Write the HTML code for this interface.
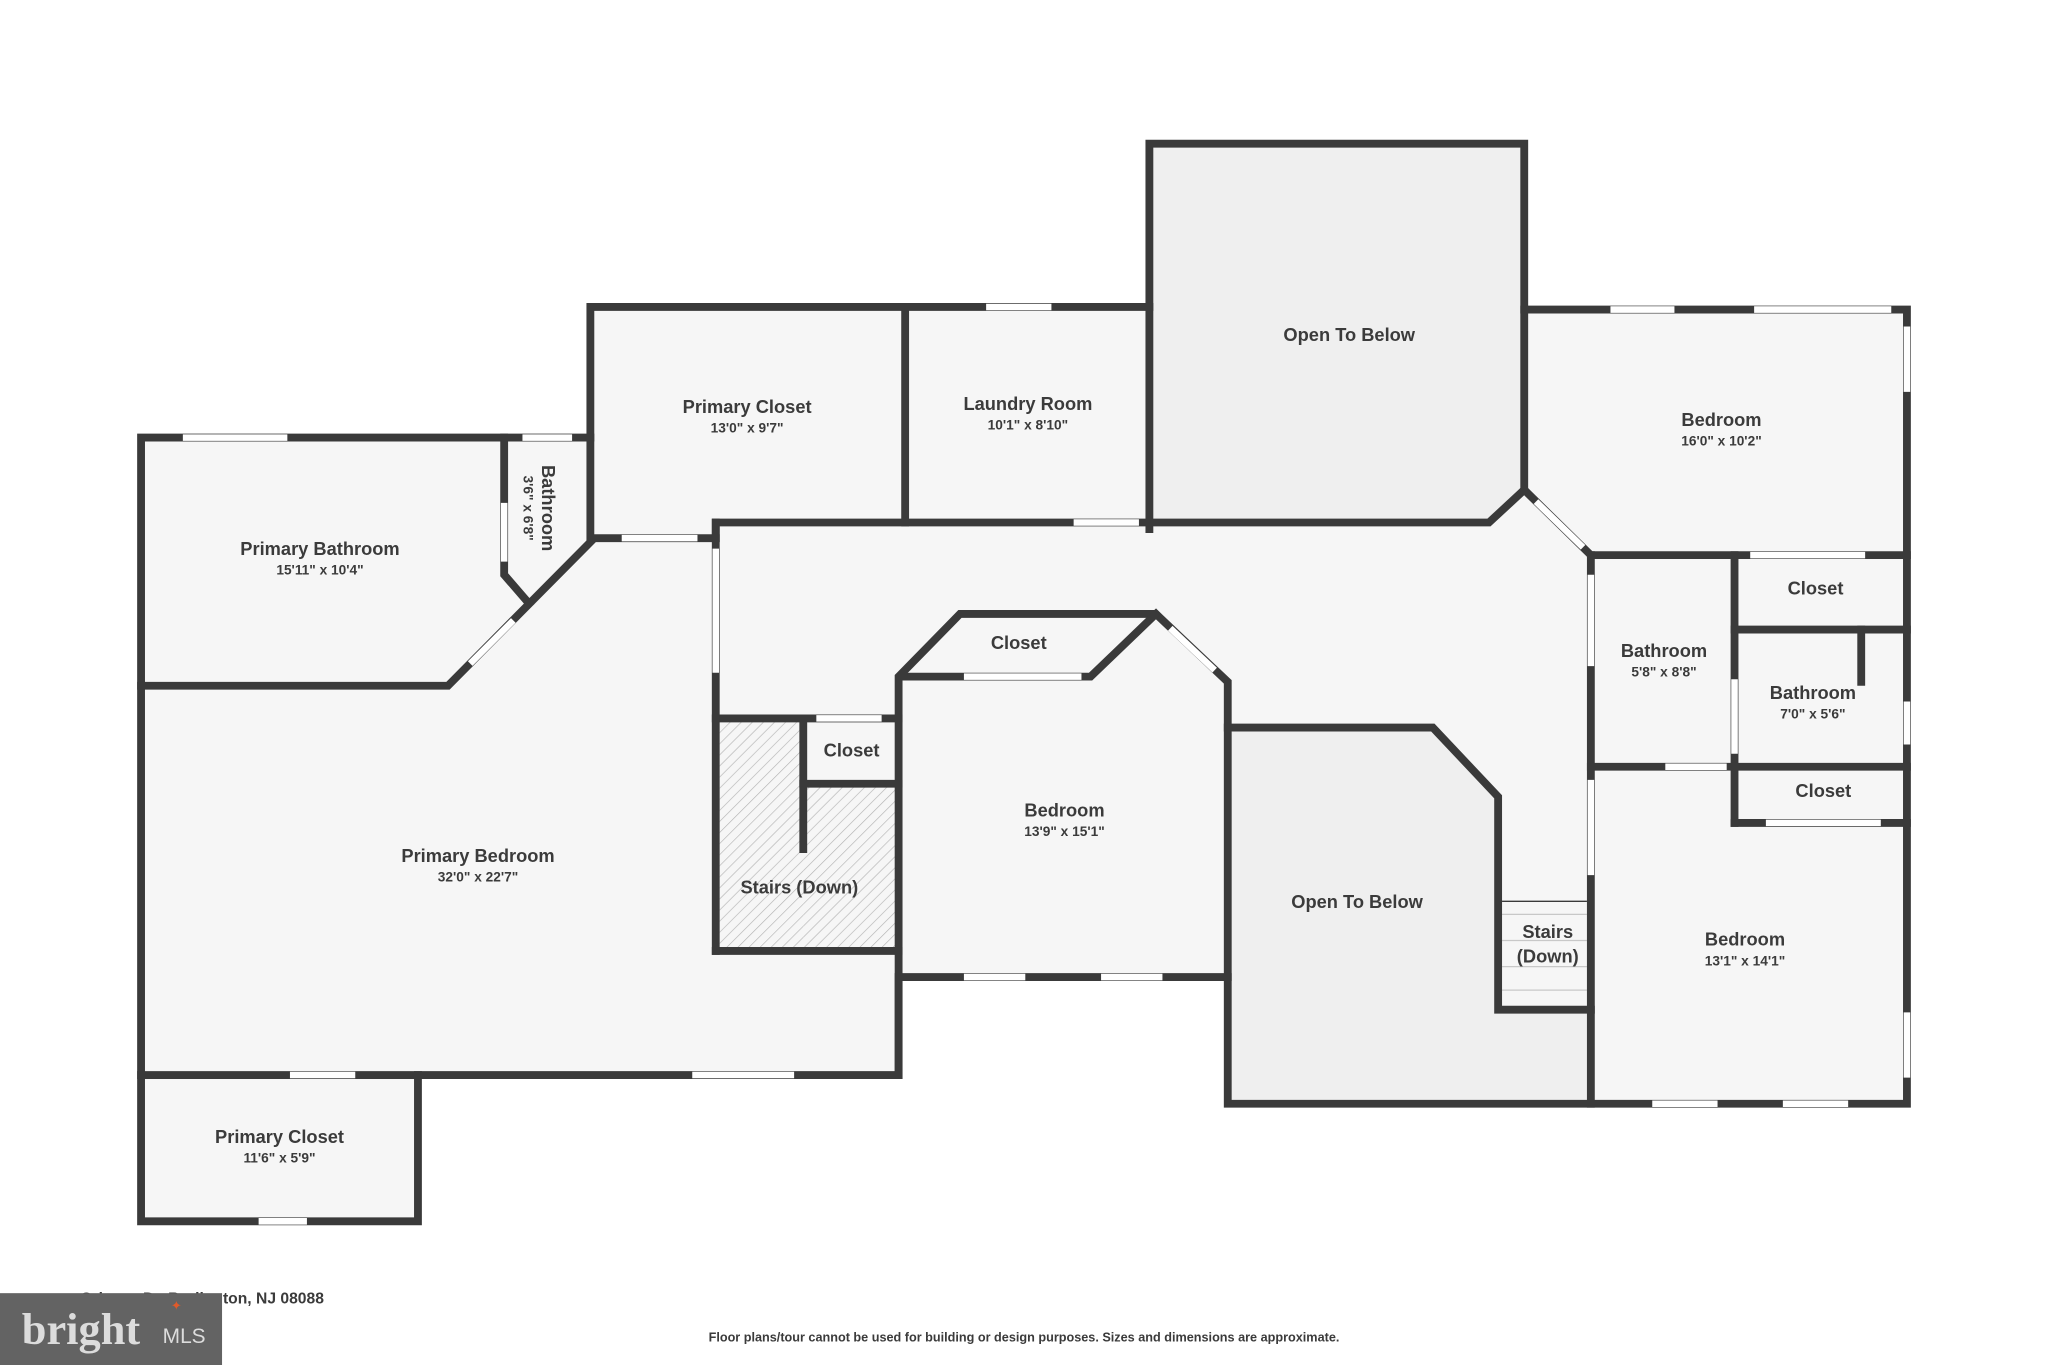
<!DOCTYPE html>
<html><head><meta charset="utf-8"><style>
html,body{margin:0;padding:0;background:#fff;}
svg{display:block}
text{font-family:"Liberation Sans",sans-serif;fill:#3b3b3b;text-anchor:middle}
.n{font-weight:bold;font-size:14px}
.d{font-weight:bold;font-size:10.5px}
</style></head><body>
<svg width="2048" height="1365" viewBox="0 0 1568 1045" preserveAspectRatio="none" xmlns="http://www.w3.org/2000/svg">
<defs>
<pattern id="h" width="6" height="6" patternUnits="userSpaceOnUse" patternTransform="rotate(45)">
<rect width="6" height="6" fill="#f6f6f6"/><line x1="0" y1="0" x2="0" y2="6" stroke="#b5b5b5" stroke-width="1"/>
</pattern>
</defs>
<rect width="1568" height="1045" fill="#fff"/>
<polygon fill="#f6f6f6" points="108,335 452,335 452,235 880,235 880,110 1167,110 1167,237 1460,237 1460,845 940,845 940,748 688,748 688,823 320,823 320,935 108,935"/>
<polygon fill="#efefef" points="880,110 1167,110 1167,375 1140,400 880,400"/>
<polygon fill="#efefef" points="940,557 1097,557 1147,610 1147,773 1218,773 1218,845 940,845"/>
<rect x="551" y="551" width="64" height="175" fill="url(#h)"/>
<rect x="615" y="602" width="71" height="124" fill="url(#h)"/>
<g stroke="#c8c8c8" stroke-width="1">
<line x1="1150" y1="700" x2="1215" y2="700"/><line x1="1150" y1="720" x2="1215" y2="720"/><line x1="1150" y1="740" x2="1215" y2="740"/><line x1="1150" y1="758" x2="1215" y2="758"/>
</g>
<line x1="1150" y1="690" x2="1215" y2="690" stroke="#3a3a3a" stroke-width="1"/>
<g fill="none" stroke="#3a3a3a" stroke-width="6" stroke-linejoin="miter" stroke-linecap="square">
<polyline points="108,335 452,335 452,235 880,235 880,110 1167,110 1167,237 1460,237 1460,845 940,845 940,748 688,748 688,823 320,823 320,935 108,935 108,335"/>
<line x1="1167" y1="237" x2="1167" y2="375"/>
<line x1="108" y1="823" x2="320" y2="823"/>
<polyline points="108,525 343,525 455,412 548,412"/>
<polyline points="386,335 386,440 405,462"/>
<line x1="452" y1="335" x2="452" y2="412"/>
<line x1="693" y1="235" x2="693" y2="400"/>
<polyline points="548,412 548,400 880,400 1140,400 1167,375"/>
<line x1="880" y1="235" x2="880" y2="405"/>
<line x1="548" y1="400" x2="548" y2="728"/>
<polyline points="548,728 688,728"/>
<polyline points="548,550 688,550"/>
<line x1="615" y1="550" x2="615" y2="650"/>
<line x1="615" y1="600" x2="688" y2="600"/>
<polyline points="688,823 688,518 735,470 885,470 940,522 940,748"/>
<polyline points="693,518 835,518 885,470"/>
<polyline points="1167,375 1218,425 1460,425"/>
<line x1="1218" y1="425" x2="1218" y2="845"/>
<line x1="1328" y1="425" x2="1328" y2="630"/>
<line x1="1218" y1="587" x2="1460" y2="587"/>
<line x1="1328" y1="482" x2="1460" y2="482"/>
<line x1="1425" y1="482" x2="1425" y2="522"/>
<line x1="1328" y1="630" x2="1460" y2="630"/>
<polyline points="940,557 1097,557 1147,610 1147,773 1218,773"/>
</g>
<g stroke="#fff" stroke-width="5" fill="none">
<line x1="140" y1="335" x2="220" y2="335"/><line x1="400" y1="335" x2="438" y2="335"/>
<line x1="755" y1="235" x2="805" y2="235"/>
<line x1="1233" y1="237" x2="1282" y2="237"/><line x1="1343" y1="237" x2="1448" y2="237"/>
<line x1="1460" y1="250" x2="1460" y2="300"/><line x1="1460" y1="537" x2="1460" y2="570"/><line x1="1460" y1="775" x2="1460" y2="825"/>
<line x1="1265" y1="845" x2="1315" y2="845"/><line x1="1365" y1="845" x2="1415" y2="845"/>
<line x1="738" y1="748" x2="785" y2="748"/><line x1="843" y1="748" x2="890" y2="748"/>
<line x1="530" y1="823" x2="608" y2="823"/><line x1="222" y1="823" x2="272" y2="823"/>
<line x1="198" y1="935" x2="235" y2="935"/>
<line x1="360" y1="508" x2="393" y2="475"/>
<line x1="476" y1="412" x2="534" y2="412"/>
<line x1="548" y1="420" x2="548" y2="515"/>
<line x1="822" y1="400" x2="872" y2="400"/>
<line x1="625" y1="550" x2="675" y2="550"/>
<line x1="738" y1="518" x2="828" y2="518"/>
<line x1="896" y1="481" x2="930" y2="513"/>
<line x1="1176" y1="384" x2="1212" y2="419"/>
<line x1="1218" y1="440" x2="1218" y2="510"/><line x1="1218" y1="597" x2="1218" y2="670"/>
<line x1="1328" y1="520" x2="1328" y2="577"/><line x1="1275" y1="587" x2="1322" y2="587"/>
<line x1="1340" y1="425" x2="1428" y2="425"/><line x1="1352" y1="630" x2="1440" y2="630"/>
<line x1="386" y1="385" x2="386" y2="430"/>
</g>
<text class="n" x="245" y="425">Primary Bathroom</text><text class="d" x="245" y="440">15'11" x 10'4"</text>
<text class="n" x="572" y="316">Primary Closet</text><text class="d" x="572" y="331">13'0" x 9'7"</text>
<text class="n" x="787" y="314">Laundry Room</text><text class="d" x="787" y="329">10'1" x 8'10"</text>
<text class="n" x="1033" y="261">Open To Below</text>
<text class="n" x="1318" y="326">Bedroom</text><text class="d" x="1318" y="341">16'0" x 10'2"</text>
<text class="n" x="1390" y="455">Closet</text>
<text class="n" x="1274" y="503">Bathroom</text><text class="d" x="1274" y="518">5'8" x 8'8"</text>
<text class="n" x="1388" y="535">Bathroom</text><text class="d" x="1388" y="550">7'0" x 5'6"</text>
<text class="n" x="1396" y="610">Closet</text>
<text class="n" x="1336" y="724">Bedroom</text><text class="d" x="1336" y="739">13'1" x 14'1"</text>
<text class="n" x="1039" y="695">Open To Below</text>
<text class="n" x="1185" y="718">Stairs</text><text class="n" x="1185" y="737">(Down)</text>
<text class="n" x="780" y="497">Closet</text>
<text class="n" x="815" y="625">Bedroom</text><text class="d" x="815" y="640">13'9" x 15'1"</text>
<text class="n" x="652" y="579">Closet</text>
<text class="n" x="612" y="684">Stairs (Down)</text>
<text class="n" x="366" y="660">Primary Bedroom</text><text class="d" x="366" y="675">32'0" x 22'7"</text>
<text class="n" x="214" y="875">Primary Closet</text><text class="d" x="214" y="890">11'6" x 5'9"</text>
<g transform="translate(420,389) rotate(90)"><text class="n" x="0" y="5">Bathroom</text></g>
<g transform="translate(405,389) rotate(90)"><text class="d" x="0" y="4">3'6" x 6'8"</text></g>
<text x="248" y="998" style="font-weight:bold;font-size:12px;text-anchor:end">Orleans Dr, Burlington, NJ 08088</text>
<rect x="0" y="990" width="170" height="55" fill="#636363"/>
<text x="62" y="1029" style="font-family:'Liberation Serif',serif;font-size:34px;font-weight:bold;fill:#dcdcdc">bright</text>
<text x="141" y="1028" style="font-size:16px;fill:#dcdcdc">MLS</text>
<text x="135" y="1003" style="font-size:10px;fill:#e05a2a">✦</text>
<text x="784" y="1027" style="font-weight:bold;font-size:9.7px">Floor plans/tour cannot be used for building or design purposes. Sizes and dimensions are approximate.</text>
</svg>
</body></html>
